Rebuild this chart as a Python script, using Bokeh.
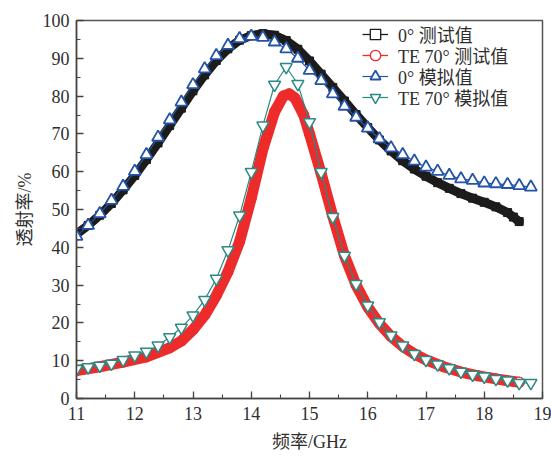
from bokeh.plotting import figure
from bokeh.models import Legend, LegendItem, Range1d, SingleIntervalTicker
from bokeh.embed import file_html
from bokeh.resources import INLINE

# 0 deg measured (dense band)
freq_meas_0 = [11.0, 11.2, 11.4, 11.6, 11.8, 12.0, 12.2, 12.4, 12.6, 12.8, 13.0, 13.2, 13.4, 13.6,
               13.8, 14.0, 14.2, 14.4, 14.6, 14.8, 15.0, 15.2, 15.4, 15.6, 15.8, 16.0, 16.2, 16.4,
               16.6, 16.8, 17.0, 17.2, 17.4, 17.6, 17.8, 18.0, 18.2, 18.4, 18.5, 18.6]
trans_meas_0 = [43.5, 45.8, 48.5, 51.6, 55.2, 59.0, 63.2, 67.6, 72.2, 76.8, 81.4, 85.6, 89.4, 92.5,
                94.8, 96.0, 96.5, 96.1, 94.7, 92.4, 89.3, 85.8, 82.3, 78.7, 75.1, 71.7, 68.4, 65.5,
                62.9, 60.7, 58.8, 57.1, 55.6, 54.2, 53.0, 51.9, 50.7, 49.2, 48.0, 46.8]

# TE 70 deg measured (dense band)
freq_meas_te70 = [11.0, 11.4, 11.8, 12.2, 12.6, 12.8, 13.0, 13.2, 13.4, 13.6, 13.8, 14.0, 14.2, 14.4,
                  14.55, 14.65, 14.75, 14.9, 15.0, 15.2, 15.4, 15.6, 15.8, 16.0, 16.2, 16.4, 16.6,
                  16.8, 17.0, 17.3, 17.6, 17.9, 18.2, 18.4, 18.6]
trans_meas_te70 = [7.4, 8.4, 9.6, 11.0, 13.4, 15.2, 18.2, 22.0, 27.2, 33.5, 41.5, 53.0, 66.0, 75.8,
                   80.0, 80.6, 79.5, 75.0, 70.0, 59.5, 48.2, 37.8, 30.0, 24.2, 19.8, 16.4, 13.8,
                   11.8, 10.2, 8.4, 7.0, 6.0, 5.2, 4.7, 4.3]

# simulations
freq_sim = [11.0, 11.2, 11.4, 11.6, 11.8, 12.0, 12.2, 12.4, 12.6, 12.8, 13.0, 13.2, 13.4, 13.6,
            13.8, 14.0, 14.2, 14.4, 14.6, 14.8, 15.0, 15.2, 15.4, 15.6, 15.8, 16.0, 16.2, 16.4,
            16.6, 16.8, 17.0, 17.2, 17.4, 17.6, 17.8, 18.0, 18.2, 18.4, 18.6, 18.8]
sim_0 = [42.9, 45.8, 48.9, 52.4, 56.1, 60.1, 64.5, 69.1, 73.7, 78.4, 83.0, 87.2, 90.7, 93.4,
         95.2, 95.8, 95.5, 94.3, 92.5, 90.0, 86.8, 84.1, 80.6, 77.3, 74.4, 71.5, 68.7, 66.3,
         64.5, 62.8, 61.2, 60.1, 59.0, 58.1, 57.7, 57.0, 56.8, 56.6, 56.3, 55.9]
sim_te70 = [7.8, 8.3, 8.7, 9.2, 10.2, 11.4, 12.4, 14.0, 16.2, 18.7, 22.0, 26.1, 31.7, 39.2,
            48.4, 59.9, 72.2, 83.0, 87.7, 83.2, 73.1, 59.9, 48.0, 37.8, 30.3, 24.6, 20.2, 16.7,
            14.0, 11.8, 10.2, 9.0, 8.0, 7.1, 6.3, 5.8, 5.2, 4.8, 4.1, 4.1]

labels = ["0° 测试值", "TE 70° 测试值", "0° 模拟值", "TE 70° 模拟值"]
x_label = "频率/GHz"
y_label = "透射率/%"

BLACK = "#1c1c1c"
RED = "#ee2b2b"
BLUE = "#2453a8"
TEAL = "#2a8a84"
TXT = "#2e2e2e"
SERIF = "Liberation Serif"
MIXED = "Liberation Serif, Noto Sans CJK SC"

p = figure(width=551, height=456, output_backend="svg", toolbar_location=None,
           x_range=Range1d(11, 19), y_range=Range1d(0, 100),
           min_border_left=76, min_border_right=9, min_border_top=20, min_border_bottom=58)
p.grid.visible = False
p.background_fill_color = "white"
p.border_fill_color = "white"
p.outline_line_color = "#555555"
p.outline_line_width = 1.5

# measured 0 deg: thin line + hollow squares (legend style), covered by the dense band
l0 = p.line(freq_meas_0, trans_meas_0, line_color=BLACK, line_width=1.3)
s0 = p.scatter(freq_meas_0, trans_meas_0, marker="square", size=3, fill_color="white",
               line_color=BLACK, line_width=1.3)
p.line(freq_meas_0, trans_meas_0, line_color=BLACK, line_width=9, line_join="round", line_cap="round")
p.scatter(freq_meas_0, trans_meas_0, marker="square", size=8, fill_color=BLACK, line_color=BLACK)

# measured TE 70 deg
l1 = p.line(freq_meas_te70, trans_meas_te70, line_color=RED, line_width=1.3)
s1 = p.scatter(freq_meas_te70, trans_meas_te70, marker="circle", size=3, fill_color="white",
               line_color=RED, line_width=1.3)
p.line(freq_meas_te70, trans_meas_te70, line_color=RED, line_width=11, line_join="round", line_cap="round")
p.scatter(freq_meas_te70, trans_meas_te70, marker="circle", size=10, fill_color=RED, line_color=RED)
p.scatter(freq_meas_te70[-1:], trans_meas_te70[-1:], marker="circle", size=10,
          fill_color="white", line_color=RED, line_width=1.2)

# simulations
l2 = p.line(freq_sim, sim_0, line_color=BLUE, line_width=1.2)
s2 = p.scatter(freq_sim, sim_0, marker="triangle", size=12, fill_color="white",
               line_color=BLUE, line_width=1.8)
l3 = p.line(freq_sim, sim_te70, line_color=TEAL, line_width=1.2)
s3 = p.scatter(freq_sim, sim_te70, marker="inverted_triangle", size=12, fill_color="white",
               line_color=TEAL, line_width=1.5)

renderer_pairs = [[l0, s0], [l1, s1], [l2, s2], [l3, s3]]
legend_bottoms = [351, 330, 309, 288]
for lab, rs, vy in zip(labels, renderer_pairs, legend_bottoms):
    lg = Legend(items=[LegendItem(label=lab, renderers=rs)], location=(286, vy),
                padding=0, margin=0, spacing=0,
                glyph_width=26, glyph_height=26, label_standoff=10, label_height=20,
                border_line_color=None, background_fill_alpha=0,
                label_text_font=MIXED, label_text_font_size="18px", label_text_color=TXT)
    p.add_layout(lg, "center")

for ax in (p.xaxis[0], p.yaxis[0]):
    ax.axis_line_color = "#444444"
    ax.axis_line_width = 1.5
    ax.major_tick_line_color = "#444444"
    ax.minor_tick_line_color = "#444444"
    ax.major_tick_line_width = 1.3
    ax.minor_tick_line_width = 1.1
    ax.major_tick_in = 7
    ax.major_tick_out = 0
    ax.minor_tick_in = 4
    ax.minor_tick_out = 0
    ax.major_label_text_font = SERIF
    ax.major_label_text_font_size = "18px"
    ax.major_label_text_color = TXT
    ax.axis_label_text_font = MIXED
    ax.axis_label_text_font_size = "18px"
    ax.axis_label_text_font_style = "normal"
    ax.axis_label_text_color = TXT

p.xaxis[0].ticker = SingleIntervalTicker(interval=1, num_minor_ticks=2)
p.yaxis[0].ticker = SingleIntervalTicker(interval=10, num_minor_ticks=2)
p.xaxis[0].axis_label = x_label
p.yaxis[0].axis_label = y_label
p.xaxis[0].major_label_standoff = 8
p.xaxis[0].axis_label_standoff = 9
p.yaxis[0].major_label_standoff = 7
p.yaxis[0].axis_label_standoff = 5

open("out.html", "w").write(file_html(p, INLINE))
